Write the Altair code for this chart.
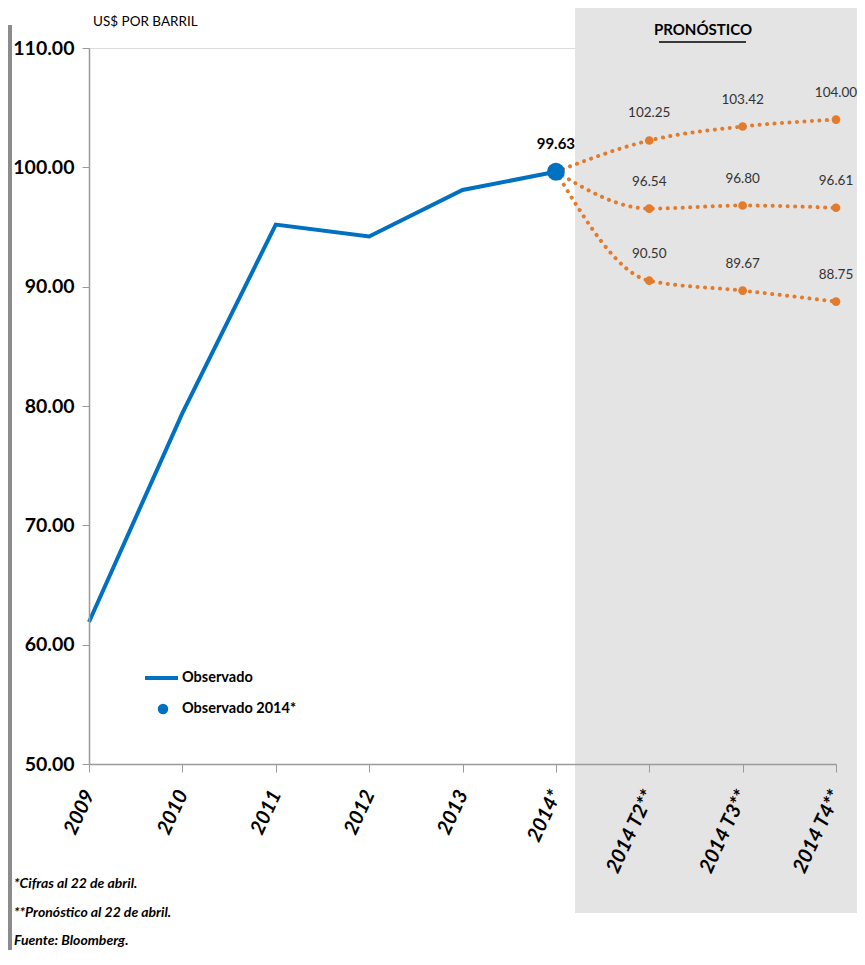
import altair as alt
import pandas as pd

# ---------------- data ----------------
categories = ["2009", "2010", "2011", "2012", "2013", "2014*",
              "2014 T2**", "2014 T3**", "2014 T4**"]
obs_categories = ["2009", "2010", "2011", "2012", "2013", "2014*"]
obs_values = [61.9, 79.4, 95.2, 94.2, 98.1, 99.63]

fc_categories = ["2014*", "2014 T2**", "2014 T3**", "2014 T4**"]
fc_high = [99.63, 102.25, 103.42, 104.00]
fc_mid = [99.63, 96.54, 96.80, 96.61]
fc_low = [99.63, 90.50, 89.67, 88.75]

y_ticks = [50, 60, 70, 80, 90, 100, 110]
legend_labels = ["Observado", "Observado 2014*"]
footnotes = ["*Cifras al 22 de abril.", "**Pronóstico al 22 de abril.", "Fuente: Bloomberg."]

# ---------------- styles ----------------
FONT = "Lato, Liberation Sans, sans-serif"
BLUE = "#0070C0"
ORANGE = "#E37B2C"
GREY_BG = "#E4E4E4"
AXIS_GREY = "#9A9A9A"

W, H = 747, 716

obs_df = pd.DataFrame({"cat": obs_categories, "val": obs_values})
last_df = obs_df.tail(1)

rows = []
for name, vals in [("alto", fc_high), ("medio", fc_mid), ("bajo", fc_low)]:
    for c, v in zip(fc_categories, vals):
        rows.append({"cat": c, "val": v, "serie": name})
fc_df = pd.DataFrame(rows)
fc_pts = fc_df[fc_df["cat"] != "2014*"]

x_enc = alt.X(
    "cat:N",
    scale=alt.Scale(type="point", domain=categories, padding=0),
    axis=alt.Axis(
        title=None, labelAngle=295, labelAlign="right", labelBaseline="middle",
        labelFont=FONT, labelFontSize=20, labelFontWeight="bold", labelFontStyle="italic",
        labelColor="#000000", labelPadding=19, tickSize=8, tickColor=AXIS_GREY,
        domainColor=AXIS_GREY, domainWidth=1.5, grid=False, zindex=2, labelOverlap=False,
    ),
)
y_enc = alt.Y(
    "val:Q",
    scale=alt.Scale(domain=[50, 110], nice=False, zero=False),
    axis=alt.Axis(
        title=None, values=y_ticks, format=".2f",
        labelFont=FONT, labelFontSize=19.5, labelFontWeight="bold", labelColor="#000000",
        labelPadding=8, tickSize=7, tickColor=AXIS_GREY, domainColor=AXIS_GREY,
        domainWidth=1.5, grid=False, zindex=2,
    ),
)

one = pd.DataFrame({"k": [0]})


def label(text, x, y, size, weight="normal", style="normal", align="left", color="#000000"):
    return alt.Chart(one).mark_text(
        font=FONT, fontSize=size, fontWeight=weight, fontStyle=style, color=color,
        align=align, baseline="middle"
    ).encode(x=alt.value(x), y=alt.value(y), text=alt.value(text))


# grey forecast background
bg = alt.Chart(one).mark_rect(color=GREY_BG).encode(
    x=alt.value(486), x2=alt.value(768), y=alt.value(-46), y2=alt.value(865)
)

# left border bar
left_bar = alt.Chart(one).mark_rect(color="#8C8C8C").encode(
    x=alt.value(-81), x2=alt.value(-77), y=alt.value(-23), y2=alt.value(902)
)

fc_lines = alt.Chart(fc_df).mark_line(
    color=ORANGE, strokeWidth=4, strokeDash=[0.1, 7.4], strokeCap="round", interpolate="monotone"
).encode(x=x_enc, y=y_enc, detail="serie:N")

fc_points = alt.Chart(fc_pts).mark_point(
    color=ORANGE, filled=True, size=75, opacity=1
).encode(x=x_enc, y=y_enc)

fc_labels = alt.Chart(fc_pts).mark_text(
    font=FONT, fontSize=13.5, color="#333333", dy=-27
).encode(x=x_enc, y=y_enc, text=alt.Text("val:Q", format=".2f"))

obs_line = alt.Chart(obs_df).mark_line(color=BLUE, strokeWidth=4).encode(x=x_enc, y=y_enc)

obs_dot = alt.Chart(last_df).mark_point(
    color=BLUE, filled=True, size=320, opacity=1
).encode(x=x_enc, y=y_enc)

obs_label = alt.Chart(last_df).mark_text(
    font=FONT, fontSize=15, fontWeight="bold", color="#000000", dy=-28
).encode(x=x_enc, y=y_enc, text=alt.Text("val:Q", format=".2f"))

# titles
unit_title = label("US$ POR BARRIL", 4, -26, 13.5)
prono_title = label("PRONÓSTICO", 614, -18, 15, weight="bold", align="center")
prono_underline = alt.Chart(one).mark_rule(color="#000000", strokeWidth=1.5).encode(
    x=alt.value(570), x2=alt.value(657), y=alt.value(-6)
)

# legend
leg_line = alt.Chart(one).mark_rule(color=BLUE, strokeWidth=4).encode(
    x=alt.value(56), x2=alt.value(89), y=alt.value(630)
)
leg_dot = alt.Chart(one).mark_point(color=BLUE, filled=True, size=110, opacity=1).encode(
    x=alt.value(74), y=alt.value(661)
)
leg_t1 = label(legend_labels[0], 93, 630, 14.5, weight="bold")
leg_t2 = label(legend_labels[1], 93, 661, 14.5, weight="bold")

# footnotes
foot1 = label(footnotes[0], -75, 836, 14, weight="bold", style="italic")
foot2 = label(footnotes[1], -75, 865, 14, weight="bold", style="italic")
foot3 = label(footnotes[2], -75, 893, 14, weight="bold", style="italic")

chart = alt.layer(
    bg, left_bar, fc_lines, fc_points, fc_labels, obs_line, obs_dot, obs_label,
    unit_title, prono_title, prono_underline, leg_line, leg_dot, leg_t1, leg_t2,
    foot1, foot2, foot3
).properties(
    width=W, height=H,
    autosize=alt.AutoSizeParams(type="none"),
    padding={"left": 81, "top": 40, "right": 21, "bottom": 188},
).configure_view(stroke=None).configure(background="#FFFFFF")

chart.save("out.html", embed_options={"renderer": "svg", "actions": False})
